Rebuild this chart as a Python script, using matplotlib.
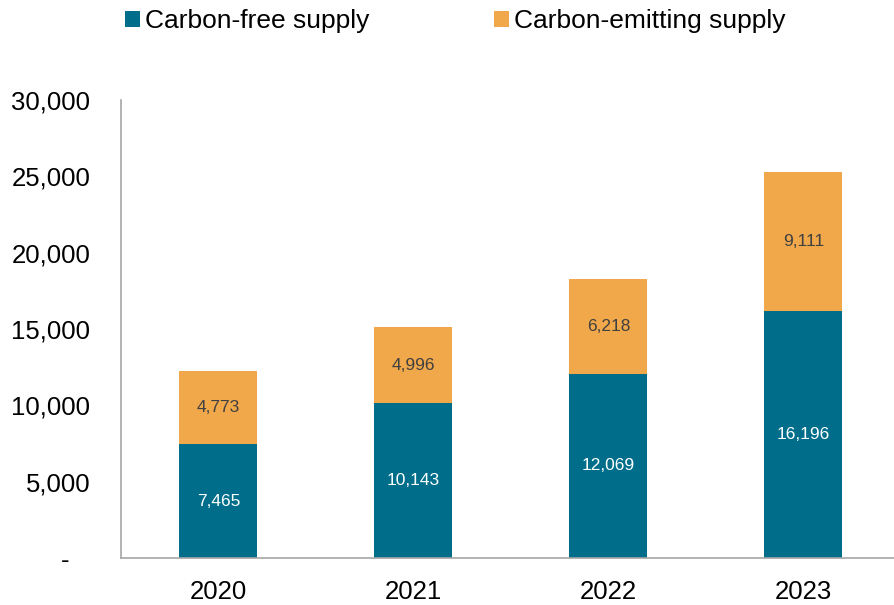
import numpy as np
import matplotlib.pyplot as plt
from matplotlib.ticker import FuncFormatter

plt.rcParams['font.family'] = ['Liberation Sans', 'DejaVu Sans']

years = ['2020', '2021', '2022', '2023']
carbon_free = [7465, 10143, 12069, 16196]
carbon_emitting = [4773, 4996, 6218, 9111]

teal = '#006E8A'
orange = '#F0A84B'
grey = '#A6A6A6'

fig = plt.figure(figsize=(8.95, 6.05), dpi=100)
ax = fig.add_axes([121 / 895, 47 / 605, 780 / 895, 458 / 605])

x = np.arange(len(years))
w = 0.4
b1 = ax.bar(x, carbon_free, w, color=teal, label='Carbon-free supply')
b2 = ax.bar(x, carbon_emitting, w, bottom=carbon_free, color=orange, label='Carbon-emitting supply')

for i in range(len(years)):
    ax.text(x[i], carbon_free[i] / 2, f'{carbon_free[i]:,}', ha='center', va='center',
            color='white', fontsize=12.5)
    ax.text(x[i], carbon_free[i] + carbon_emitting[i] / 2, f'{carbon_emitting[i]:,}',
            ha='center', va='center', color='#404040', fontsize=12.5)

ax.set_xlim(-0.5, 3.5)
ax.set_ylim(0, 30000)
ax.set_yticks(np.arange(0, 30001, 5000))
ax.yaxis.set_major_formatter(FuncFormatter(lambda v, p: '-   ' if v == 0 else f'{int(v):,}'))
ax.set_xticks(x)
ax.set_xticklabels(years)
ax.tick_params(axis='y', length=0, pad=22, labelsize=18.5)
ax.tick_params(axis='x', length=0, pad=16, labelsize=18.5)

for s in ['top', 'right']:
    ax.spines[s].set_visible(False)
for s in ['left', 'bottom']:
    ax.spines[s].set_color(grey)
    ax.spines[s].set_linewidth(1.2)

fig.legend(handles=[b1, b2], loc='upper left', bbox_to_anchor=(125 / 895, 1 - 9 / 605),
           ncol=2, frameon=False, fontsize=19, handlelength=0.57, handleheight=0.57,
           handletextpad=0.2, columnspacing=4.7, borderpad=0, borderaxespad=0)

fig.savefig('out.png', dpi=100)
